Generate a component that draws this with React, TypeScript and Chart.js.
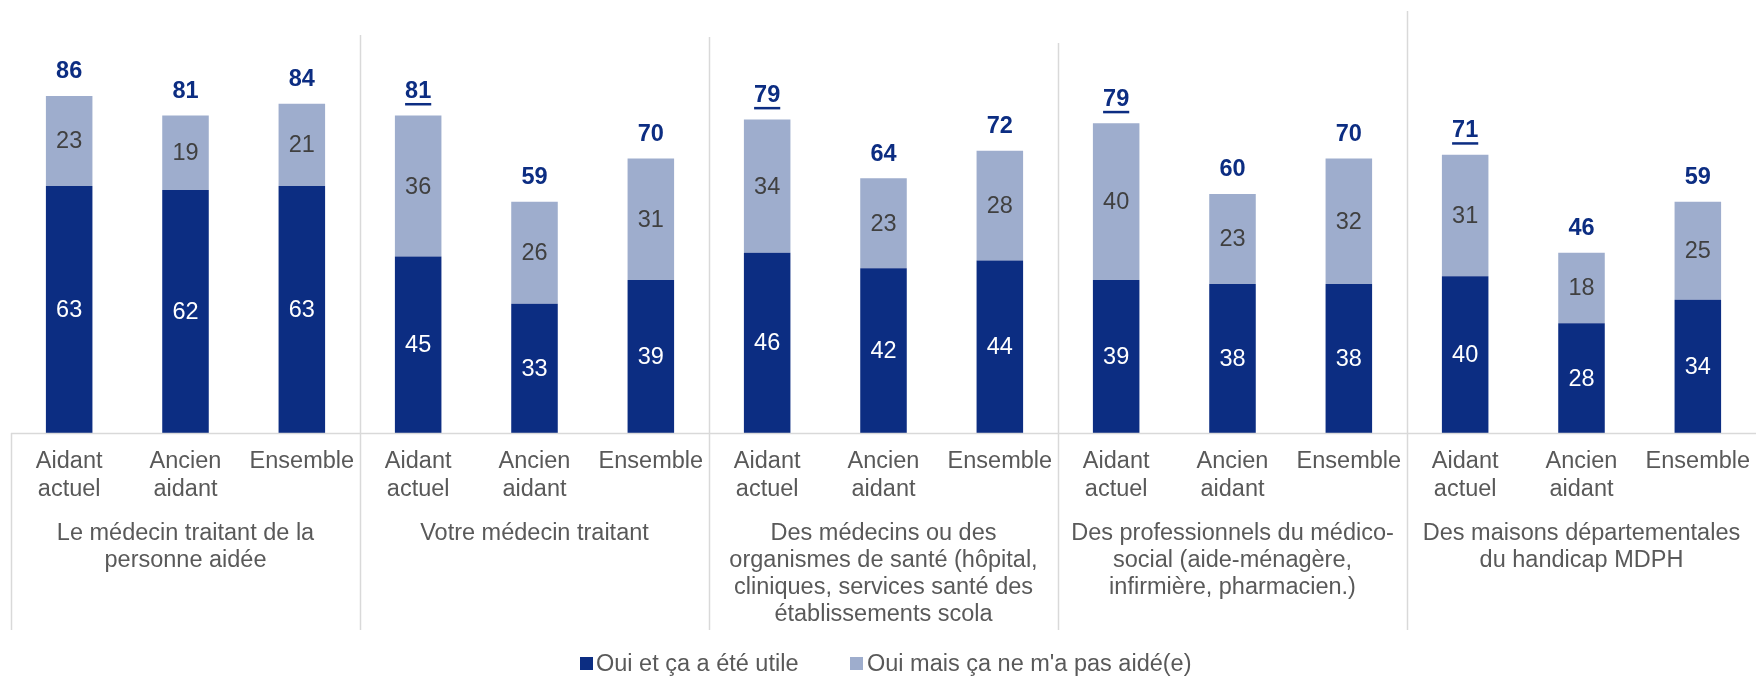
import React, { useEffect, useRef } from 'react';
import { Chart, registerables } from 'chart.js';

Chart.register(...registerables);

// ---------------- DATA ----------------
const groupLabels: string[][] = [
  ['Le médecin traitant de la', 'personne aidée'],
  ['Votre médecin traitant'],
  ['Des médecins ou des', 'organismes de santé (hôpital,', 'cliniques, services santé des', 'établissements scola'],
  ['Des professionnels du médico-', 'social (aide-ménagère,', 'infirmière, pharmacien.)'],
  ['Des maisons départementales', 'du handicap MDPH'],
];
const subLabels: string[][] = [['Aidant', 'actuel'], ['Ancien', 'aidant'], ['Ensemble']];
const seriesNames = ['Oui et ça a été utile', "Oui mais ça ne m'a pas aidé(e)"];
const usefulValues = [63, 62, 63, 45, 33, 39, 46, 42, 44, 39, 38, 38, 40, 28, 34];
const notHelpedValues = [23, 19, 21, 36, 26, 31, 34, 23, 28, 40, 23, 32, 31, 18, 25];
const totalValues = [86, 81, 84, 81, 59, 70, 79, 64, 72, 79, 60, 70, 71, 46, 59];
const underlinedTotals = [3, 6, 9, 12];

// ---------------- STYLE ----------------
const FONT = '"Liberation Sans", Arial, Helvetica, sans-serif';
const DARK = '#0c2d82';
const LIGHT = '#9eadcd';
const NAVY = '#0c2d82';
const AXIS_TEXT = '#595959';
const LIGHT_TEXT = '#404040';
const LINE = '#d9d9d9';
const FS = 23.5;
const DIVIDER_TOPS = [35, 37, 43, 11];
const AXIS_BOTTOM = 630;

const categoryLabels: string[][] = [];
groupLabels.forEach(() => subLabels.forEach((s) => categoryLabels.push(s)));

const decorPlugin = {
  id: 'decor',
  afterDraw(chart: any) {
    const { ctx, chartArea } = chart;
    const xScale = chart.scales.x;
    const bottom = chartArea.bottom;
    ctx.save();

    // axis line
    ctx.strokeStyle = LINE;
    ctx.lineWidth = 1.5;
    ctx.beginPath();
    ctx.moveTo(chartArea.left, bottom + 0.5);
    ctx.lineTo(chart.width, bottom + 0.5);
    ctx.stroke();
    // left boundary
    ctx.beginPath();
    ctx.moveTo(chartArea.left + 0.5, bottom);
    ctx.lineTo(chartArea.left + 0.5, AXIS_BOTTOM);
    ctx.stroke();
    // group dividers
    for (let g = 1; g < groupLabels.length; g++) {
      const x = (xScale.getPixelForValue(g * 3 - 1) + xScale.getPixelForValue(g * 3)) / 2;
      ctx.beginPath();
      ctx.moveTo(Math.round(x) + 0.5, DIVIDER_TOPS[g - 1]);
      ctx.lineTo(Math.round(x) + 0.5, AXIS_BOTTOM);
      ctx.stroke();
    }

    // group labels
    ctx.fillStyle = AXIS_TEXT;
    ctx.font = `${FS}px ${FONT}`;
    ctx.textAlign = 'center';
    ctx.textBaseline = 'middle';
    groupLabels.forEach((lines, g) => {
      const x = (xScale.getPixelForValue(g * 3) + xScale.getPixelForValue(g * 3 + 2)) / 2;
      lines.forEach((line, i) => ctx.fillText(line, x, bottom + 101 + i * 27));
    });

    // data labels
    const m0 = chart.getDatasetMeta(0);
    const m1 = chart.getDatasetMeta(1);
    for (let j = 0; j < usefulValues.length; j++) {
      const b0 = m0.data[j];
      const b1 = m1.data[j];
      ctx.font = `${FS}px ${FONT}`;
      ctx.fillStyle = '#ffffff';
      ctx.fillText(String(usefulValues[j]), b0.x, (b0.y + b0.base) / 2 + 1);
      ctx.fillStyle = LIGHT_TEXT;
      ctx.fillText(String(notHelpedValues[j]), b1.x, (b1.y + b1.base) / 2 + 1);
      ctx.font = `bold ${FS}px ${FONT}`;
      ctx.fillStyle = NAVY;
      const ty = b1.y - 24;
      const txt = String(totalValues[j]);
      ctx.fillText(txt, b1.x, ty);
      if (underlinedTotals.includes(j)) {
        const w = ctx.measureText(txt).width;
        ctx.fillRect(b1.x - w / 2, ty + 11.5, w, 2.5);
      }
    }

    // legend
    const legendY = 663.5;
    const items = [
      { sq: 580, tx: 596, color: DARK },
      { sq: 850, tx: 867, color: LIGHT },
    ];
    ctx.font = `${FS}px ${FONT}`;
    ctx.textAlign = 'left';
    items.forEach((it, i) => {
      ctx.fillStyle = chart.data.datasets[i].backgroundColor || it.color;
      ctx.fillRect(it.sq, legendY - 6.5, 13, 13);
      ctx.fillStyle = AXIS_TEXT;
      ctx.fillText(chart.data.datasets[i].label, it.tx, legendY + 1);
    });

    ctx.restore();
  },
};

export default function App() {
  const ref = useRef<HTMLCanvasElement>(null);
  useEffect(() => {
    const canvas = ref.current;
    if (!canvas) return;
    const chart = new Chart(canvas, {
      type: 'bar',
      data: {
        labels: categoryLabels,
        datasets: [
          {
            label: seriesNames[0],
            data: usefulValues,
            backgroundColor: DARK,
            barPercentage: 0.4,
            categoryPercentage: 1,
          },
          {
            label: seriesNames[1],
            data: notHelpedValues,
            backgroundColor: LIGHT,
            barPercentage: 0.4,
            categoryPercentage: 1,
          },
        ],
      },
      options: {
        responsive: false,
        animation: false,
        layout: { padding: { top: 41, left: 11, right: 0, bottom: 0 } },
        plugins: { legend: { display: false }, tooltip: { enabled: false } },
        scales: {
          x: {
            stacked: true,
            grid: { display: false, drawTicks: false },
            border: { display: false },
            ticks: {
              autoSkip: false,
              maxRotation: 0,
              minRotation: 0,
              padding: 15,
              color: AXIS_TEXT,
              font: { family: FONT, size: FS, lineHeight: 1.17 },
            },
            afterFit: (s: any) => {
              s.height = 245;
              s.paddingLeft = 0;
              s.paddingRight = 0;
            },
          },
          y: { stacked: true, display: false, min: 0, max: 100 },
        },
      } as any,
      plugins: [decorPlugin],
    });
    return () => chart.destroy();
  }, []);
  return (
    <div style={{ position: 'absolute', left: 0, top: 0 }}>
      <canvas ref={ref} width={1756} height={678} style={{ display: 'block' }} />
    </div>
  );
}
